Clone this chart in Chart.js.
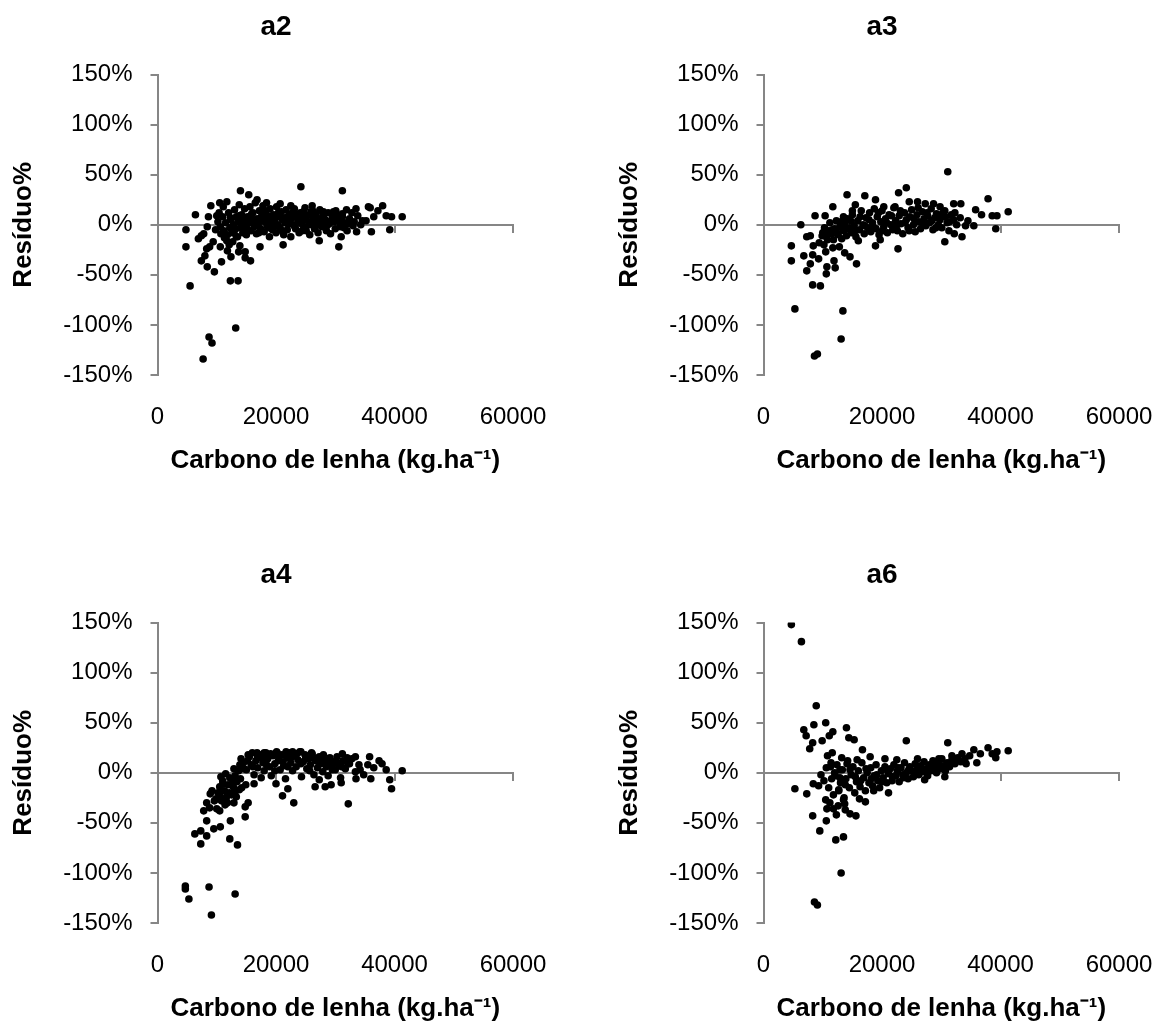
<!DOCTYPE html>
<html>
<head>
<meta charset="utf-8">
<script src="https://cdn.jsdelivr.net/npm/chart.js@4.4.1/dist/chart.umd.min.js"></script>
<style>
  body { margin: 0; background: #fff; width: 1165px; height: 1028px; position: relative; overflow: hidden; }
  .panel { position: absolute; width: 552px; height: 476px; }
</style>
</head>
<body>
<div class="panel" style="left:0;top:0"><canvas id="a2"></canvas></div>
<div class="panel" style="left:606px;top:0"><canvas id="a3"></canvas></div>
<div class="panel" style="left:0;top:548px"><canvas id="a4"></canvas></div>
<div class="panel" style="left:606px;top:548px"><canvas id="a6"></canvas></div>
<script>
// x tick values and y tick values shared by all four panels
const xTicks = [0, 20000, 40000, 60000];
const yTicks = [-150, -100, -50, 0, 50, 100, 150];
const xTitle = 'Carbono de lenha (kg.ha\u207B\u00B9)';
const yTitle = 'Resíduo%';

// [carbono de lenha, residuo %]
const a2Points = [
  [4800,-5],[4800,-22],[5500,-61],[6400,10],[7700,-134],[8700,-112],[9200,-118],[13200,-103],
  [12300,-56],[13600,-56],[24200,38],[31200,34],[7400,-36],[8000,-31],[8400,-42],[9600,-47],
  [10800,-37],[9000,19],[10500,22],[11700,23],[11100,18],[14000,34],[15400,30],[16800,25],
  [18400,22],[20700,21],[22500,19],[26100,19],[35600,18],[38000,19],[38600,9],[39500,8],
  [41300,8],[39200,-5],[36100,-7],[33600,-7],[30600,-22],[31000,-12],[27300,-16],[21200,-20],
  [17300,-22],[15700,-36],[14800,-33],[14800,-27],[13700,-27],[12400,-32],[11800,-26],[10600,-22],
  [8800,-22],[8300,-24],[9400,-17],[6900,-14],[7400,-11],[7800,-9],[8400,-2],[8600,8],
  [10000,9],[10700,-9],[11700,-16],[12700,-17],[13300,-12],[13900,-21],[34300,0],[35200,4],
  [35900,17],[33500,16],[31900,15],[31200,11],[29700,13],[28000,13],[24600,13],[22900,13],
  [10200,3],[10600,-2],[11000,8],[11200,-6],[11500,2],[11800,-10],[12000,12],[12200,-3],
  [12400,5],[12600,-8],[12800,0],[13000,15],[13100,-5],[13300,8],[13500,-12],[13600,3],
  [13800,20],[14000,-3],[14200,10],[14400,-8],[14500,5],[14700,16],[14900,-1],[15000,-10],
  [15200,8],[15400,2],[15600,18],[15800,-6],[16000,5],[16100,12],[16300,-2],[16500,22],
  [16700,-9],[16800,6],[17000,0],[17200,14],[17400,-4],[17600,9],[17800,19],[18000,-7],
  [18100,3],[18300,12],[18500,-1],[18700,7],[18900,-12],[19000,16],[19200,2],[19400,-5],
  [19600,10],[19800,4],[20000,-8],[20100,18],[20300,0],[20500,8],[20700,-3],[20900,13],
  [21100,5],[21300,-10],[21500,2],[21700,15],[21900,-5],[22100,9],[22300,3],[22500,-12],
  [22700,7],[22900,0],[23100,16],[23300,-4],[23500,10],[23700,4],[23900,-8],[24100,12],
  [24300,1],[24500,6],[24700,-2],[24900,17],[25100,-6],[25300,9],[25500,3],[25700,-10],
  [25900,13],[26100,1],[26300,7],[26500,-4],[26700,11],[26900,4],[27100,-8],[27400,15],
  [27600,2],[27800,-2],[28000,8],[28300,5],[28500,-6],[28800,12],[29000,1],[29200,-9],
  [29500,7],[29800,3],[30000,-4],[30300,10],[30600,5],[30900,-2],[31200,8],[31600,2],
  [32000,-6],[32400,6],[32800,12],[33200,3],[33800,9],[34600,4],[36500,8],[37200,14],
  [12300,7],[12900,-2],[13700,9],[14300,1],[15100,-4],[15900,11],[16400,3],[17100,-8],
  [17700,4],[18200,14],[18800,-3],[19300,9],[19900,-1],[20400,12],[21000,-6],[21400,7],
  [22000,1],[22600,11],[23200,-2],[23800,5],[24400,-6],[25000,10],[25600,0],[26200,14],
  [26800,-1],[27300,6],[27900,11],[28600,-1],[29300,4],[30100,14],[30800,1],[31500,-3],
  [32300,1],[33000,-1],[11300,-13],[12100,-20],[9800,-5],[10400,12]
];

const a3Points = [
  [31100,53],[24100,37],[22800,32],[14100,30],[17100,29],[18900,25],[11700,18],[8700,9],
  [6300,0],[4700,-21],[4700,-36],[6800,-31],[7300,-46],[7900,-39],[8300,-30],[8400,-21],
  [8300,-60],[9600,-61],[9300,-34],[10600,-49],[10700,-42],[12100,-43],[11900,-36],[11700,-23],
  [10500,-27],[13700,-28],[14600,-32],[15700,-39],[22700,-24],[18900,-21],[5300,-84],[13400,-86],
  [13100,-114],[8600,-131],[9100,-129],[37900,26],[38600,9],[39400,9],[41300,13],[39200,-4],
  [35800,15],[35500,-1],[34100,-1],[33500,-12],[32200,-9],[30600,-17],[33300,21],[32100,21],
  [28700,21],[27300,21],[26000,23],[24600,23],[29800,18],[22200,18],[20300,18],[15500,20],
  [15000,14],[13500,8],[10400,9],[7300,-12],[7900,-11],[9900,-11],
  [10000,-8],[10300,-3],[10600,-12],[10900,-6],[11200,2],[11500,-9],[11800,-15],[12000,-4],
  [12300,4],[12600,-10],[12900,-2],[13200,-14],[13500,-6],[13700,2],[14000,-11],[14200,6],
  [14500,-3],[14800,-8],[15000,10],[15300,-1],[15600,-12],[15900,4],[16200,-5],[16500,14],
  [16800,0],[17000,-9],[17300,7],[17600,-3],[17900,12],[18100,-7],[18400,2],[18700,16],
  [19000,-4],[19200,8],[19500,-10],[19800,3],[20000,14],[20300,-2],[20600,6],[20900,-8],
  [21200,10],[21500,0],[21800,-5],[22000,17],[22300,4],[22600,-6],[22900,9],[23200,1],
  [23500,-9],[23800,12],[24100,5],[24400,-3],[24700,8],[25000,15],[25300,0],[25600,-7],
  [25900,10],[26200,3],[26500,-4],[26800,13],[27100,6],[27400,-1],[27700,9],[28000,2],
  [28300,16],[28600,-5],[28900,7],[29200,11],[29500,0],[29800,5],[30100,-3],[30400,13],
  [30700,8],[31000,2],[31300,-6],[31700,10],[32100,5],[32600,0],[33200,7],[34500,4],[36800,10],
  [10800,-15],[11600,-5],[12400,-8],[13100,3],[13900,-4],[14700,4],[15500,-6],[16300,8],
  [17100,-1],[17800,5],[18600,-3],[19400,12],[20100,-6],[20800,2],[21600,9],[22400,-2],
  [23100,14],[23900,2],[24600,-6],[25400,6],[26100,17],[26900,1],[27600,12],[28400,4],
  [29100,-3],[29900,10],[30600,14],[31400,3],[32300,12],[9400,-18],[10200,-20],[12800,-22],
  [16000,-16],[19700,-15]
];

const a4Points = [
  [4700,-113],[4700,-116],[5300,-126],[8700,-114],[9100,-142],[13100,-121],[6300,-61],[7300,-58],
  [7300,-71],[8300,-63],[8300,-48],[9500,-56],[10600,-54],[12300,-48],[12200,-66],[13500,-72],
  [14800,-44],[14800,-34],[15300,-30],[10500,-38],[7800,-38],[8300,-30],[8900,-21],[9900,-26],
  [10600,-24],[11800,-30],[12100,-20],[13300,-24],[13800,-17],[11000,-11],[10700,-4],[11500,-1],
  [12700,-7],[12900,4],[14100,14],[15300,18],[16800,20],[18000,20],[20200,20],[21700,21],
  [22800,21],[24200,21],[26000,20],[27600,14],[31200,19],[33400,16],[35800,16],[35500,8],
  [37900,9],[38600,3],[41300,2],[39200,-7],[39500,-16],[36000,-6],[33500,-6],[32200,-31],
  [31000,-10],[29300,-12],[28300,-14],[26600,-14],[27300,-7],[23000,-30],[21100,-23],[22000,-16],
  [20000,-11],[16300,-11],[14900,-12],[34200,3],[32400,9],
  [14500,10],[15000,3],[15500,16],[15800,8],[16000,20],[16300,-2],[16600,12],[16900,5],
  [17200,18],[17500,-5],[17800,10],[18000,2],[18300,20],[18600,14],[18900,6],[19200,-3],
  [19500,17],[19800,9],[20100,21],[20400,12],[20700,3],[21000,18],[21300,7],[21600,-6],
  [21900,15],[22200,20],[22500,10],[22800,2],[23100,17],[23400,6],[23700,13],[24000,21],
  [24300,-4],[24600,11],[24900,18],[25200,4],[25500,14],[25800,8],[26100,19],[26400,-2],
  [26700,12],[27000,5],[27300,16],[27600,9],[27900,1],[28200,13],[28500,6],[28800,-3],
  [29100,15],[29400,8],[29700,11],[30000,3],[30300,16],[30600,7],[30900,-5],[31300,12],
  [31700,4],[32200,9],[32800,14],[33400,1],[34000,8],[34800,-2],[36500,5],[37400,12],
  [10200,-20],[10500,-14],[10800,-28],[11000,-8],[11300,-18],[11600,-25],[11900,-12],[12200,-5],
  [12500,-22],[12800,-14],[13100,-3],[13400,-9],[13700,2],[14000,-6],[14200,-15],[9600,-28],
  [9200,-18],[8800,-35],[10000,-36],[11400,-32],
  [15200,12],[16100,6],[16900,16],[17700,14],[18400,8],[19100,19],[19800,2],[20500,16],
  [21200,11],[22000,6],[22700,16],[23500,19],[24200,9],[25000,14],[25700,2],[26400,15],
  [27200,11],[28000,18],[28700,9],[29500,3],[30300,10],[31100,6],[32000,15],[12400,-12],
  [13200,-18],[11800,-22],[12900,-30],[10900,-18],[14600,4],[13900,8]
];

const a6Points = [
  [4700,148],[6400,131],[8900,67],[6800,43],[7200,37],[8500,48],[10500,50],[11700,41],
  [11100,37],[14000,45],[14400,35],[15300,33],[7800,24],[8300,30],[9900,32],[10800,17],
  [11300,6],[24100,32],[31100,30],[33500,19],[35500,23],[37900,25],[38600,19],[39400,21],
  [41300,22],[39200,15],[36000,10],[34200,9],[5300,-16],[7300,-21],[8300,-43],[9500,-58],
  [10600,-48],[10700,-36],[10500,-27],[11800,-36],[12300,-42],[12200,-67],[13500,-64],[13100,-100],
  [8600,-129],[9100,-132],[13800,-37],[14600,-41],[15600,-43],[13700,-31],[17200,-29],[21100,-20],
  [30600,-4],[27200,-7],[9300,-13],[8400,-11],[9700,-2],[16700,23],[18000,16],[20500,14],
  [22500,13],[26000,14],[29600,14],[31800,17],[15800,13],[14100,9],[12900,3],[11500,-6],
  [12700,-17],[13500,-27],
  [10200,-8],[10600,5],[11000,-15],[11400,10],[11800,-22],[12100,-3],[12400,8],[12700,-18],
  [13000,-10],[13300,3],[13600,-25],[13900,-6],[14200,12],[14500,-15],[14800,-2],[15100,6],
  [15400,-20],[15700,-9],[16000,2],[16300,-14],[16600,10],[16900,-5],[17200,-18],[17500,0],
  [17800,-10],[18100,5],[18400,-13],[18700,-3],[19000,8],[19300,-8],[19600,-15],[19900,2],
  [20200,-5],[20500,6],[20800,-10],[21100,-1],[21400,4],[21700,-8],[22000,8],[22300,-3],
  [22600,2],[22900,-9],[23200,5],[23500,-2],[23800,10],[24100,0],[24400,-6],[24700,6],
  [25000,2],[25300,-4],[25600,9],[25900,3],[26200,-2],[26500,7],[26800,1],[27100,11],
  [27400,4],[27700,-3],[28000,8],[28300,2],[28600,12],[28900,5],[29200,0],[29500,9],
  [29800,4],[30100,14],[30400,7],[30700,2],[31000,10],[31400,6],[31800,13],[32300,9],
  [32800,15],[33300,11],[34000,14],[34800,17],[36600,19],
  [12000,0],[12900,-5],[13800,-12],[14600,3],[15500,-4],[16400,-8],[17300,4],[18200,-6],
  [19100,-2],[20000,-9],[20900,3],[21800,-4],[22700,5],[23600,-5],[24500,3],[25400,0],
  [26300,6],[27200,1],[28100,4],[29000,8],[29900,7],[30800,5],[31700,9],[32600,12],
  [11200,-30],[12600,-33],[11600,20],[13200,15],[16200,-26],[18600,-18]
];

const AXIS_GREY = '#868686';
const FONT = 'Liberation Sans, Arial, sans-serif';

function drawPanel(id, title, points) {
  const ctx = document.getElementById(id);
  return new Chart(ctx, {
    type: 'scatter',
    data: {
      datasets: [{
        data: points.map(p => ({ x: p[0], y: p[1] })),
        xAxisID: 'x',
        yAxisID: 'y',
        pointRadius: 3.8,
        pointHoverRadius: 3.8,
        backgroundColor: '#000',
        borderWidth: 0
      }]
    },
    options: {
      responsive: true,
      maintainAspectRatio: false,
      animation: false,
      // left padding also centres the panel title over the whole Excel chart box
      layout: { padding: { left: 39, right: 39, top: 0, bottom: 0 } },
      plugins: {
        legend: { display: false },
        tooltip: { enabled: false },
        title: {
          display: true,
          text: title,
          color: '#000',
          font: { family: FONT, size: 28, weight: 'bold' },
          padding: { top: 10, bottom: 31 }
        }
      },
      scales: {
        x: {
          type: 'linear',
          position: 'bottom',
          min: xTicks[0],
          max: xTicks[xTicks.length - 1],
          afterBuildTicks: s => { s.ticks = xTicks.map(v => ({ value: v })); },
          afterFit: s => { s.height = 101; },
          ticks: {
            callback: v => String(v),
            color: '#000',
            font: { family: FONT, size: 24 },
            padding: 4,
            maxRotation: 0
          },
          // invisible tick marks push the labels down without widening the side padding
          grid: { display: true, drawOnChartArea: false, drawTicks: true, tickLength: 24, color: 'rgba(0,0,0,0)' },
          border: { display: false },
          title: {
            display: true,
            text: xTitle,
            color: '#000',
            font: { family: FONT, size: 26, weight: 'bold' },
            padding: 0
          }
        },
        xZero: {
          type: 'linear',
          axis: 'x',
          position: { y: 0 },
          min: xTicks[0],
          max: xTicks[xTicks.length - 1],
          afterBuildTicks: s => { s.ticks = xTicks.map(v => ({ value: v })); },
          ticks: { display: false },
          grid: { drawOnChartArea: false, tickLength: 7, color: AXIS_GREY, lineWidth: 2 },
          border: { color: AXIS_GREY, width: 2 }
        },
        y: {
          type: 'linear',
          min: yTicks[0],
          max: yTicks[yTicks.length - 1],
          afterBuildTicks: s => { s.ticks = yTicks.map(v => ({ value: v })); },
          afterFit: s => { s.width = 118.5; },
          ticks: {
            callback: v => v + '%',
            color: '#000',
            font: { family: FONT, size: 24 },
            padding: 18
          },
          grid: { drawOnChartArea: false, tickLength: 7, color: AXIS_GREY, lineWidth: 2 },
          border: { color: AXIS_GREY, width: 2 },
          title: {
            display: true,
            text: yTitle,
            color: '#000',
            font: { family: FONT, size: 26, weight: 'bold' },
            padding: { top: -31, bottom: 0 }
          }
        }
      }
    }
  });
}

drawPanel('a2', 'a2', a2Points);
drawPanel('a3', 'a3', a3Points);
drawPanel('a4', 'a4', a4Points);
drawPanel('a6', 'a6', a6Points);
</script>
</body>
</html>
